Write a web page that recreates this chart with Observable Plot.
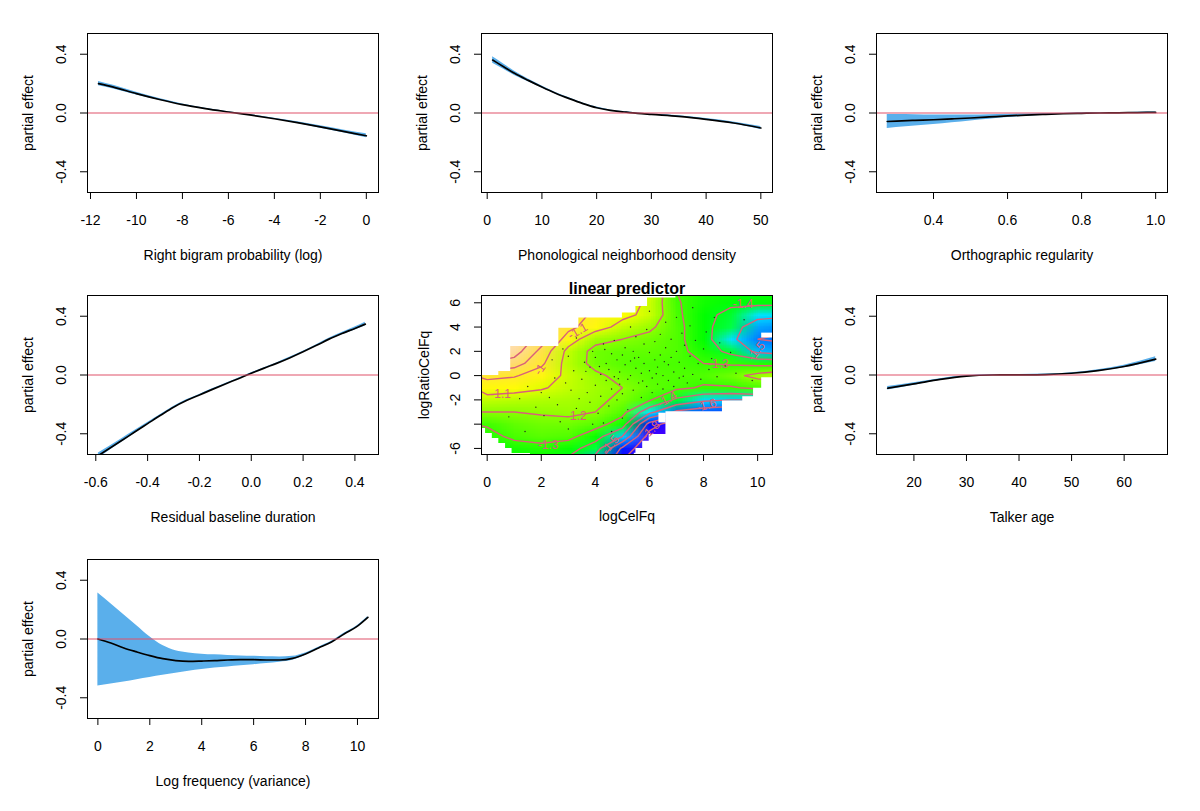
<!DOCTYPE html>
<html><head><meta charset="utf-8">
<script src="https://cdn.jsdelivr.net/npm/d3@7"></script>
<script src="https://cdn.jsdelivr.net/npm/@observablehq/plot@0.6"></script>
<style>
body{margin:0;background:#fff;}
#wrap{position:relative;width:1200px;height:811px;overflow:hidden;background:#fff;font-family:"Liberation Sans",Arial,sans-serif;}
#wrap svg{position:absolute;}
</style></head><body><div id="wrap"></div>
<script>
// ---------- Panel 1: Right bigram probability (log)
const p1X   = [-11.65,-11,-10,-9,-8,-7,-6,-5,-4,-3,-2,-1,0];
const p1Fit = [0.2,0.176,0.132,0.092,0.057,0.03,0.007,-0.015,-0.039,-0.066,-0.095,-0.125,-0.155];
const p1Se  = [0.015,0.012,0.009,0.006,0.004,0.003,0.002,0.003,0.004,0.006,0.008,0.01,0.013];
// ---------- Panel 2: Phonological neighborhood density
const p2X   = [1,3,5,7.5,10,12.5,15,17.5,20,22.5,25,27.5,30,35,40,45,50];
const p2Fit = [0.36,0.315,0.27,0.222,0.177,0.135,0.098,0.064,0.036,0.018,0.007,-0.003,-0.01,-0.023,-0.043,-0.068,-0.102];
const p2Se  = [0.022,0.018,0.014,0.01,0.007,0.005,0.005,0.004,0.004,0.003,0.003,0.003,0.003,0.004,0.005,0.007,0.01];
// ---------- Panel 3: Orthographic regularity
const p3X   = [0.275,0.3,0.35,0.4,0.45,0.5,0.55,0.6,0.65,0.7,0.75,0.8,0.85,0.9,0.95,1.0];
const p3Fit = [-0.058,-0.055,-0.05,-0.046,-0.04,-0.034,-0.027,-0.02,-0.014,-0.009,-0.005,-0.002,0,0.001,0.003,0.004];
const p3Se  = [0.048,0.044,0.038,0.032,0.026,0.02,0.015,0.011,0.008,0.006,0.004,0.003,0.002,0.002,0.002,0.002];
// ---------- Panel 4: Residual baseline duration
const p4X   = [-0.59,-0.5,-0.45,-0.4,-0.35,-0.3,-0.25,-0.2,-0.15,-0.1,-0.05,0,0.05,0.1,0.15,0.2,0.25,0.3,0.35,0.4,0.44];
const p4Fit = [-0.548,-0.446,-0.388,-0.331,-0.274,-0.219,-0.174,-0.136,-0.098,-0.061,-0.025,0.012,0.047,0.081,0.118,0.158,0.2,0.244,0.282,0.317,0.346];
const p4Se  = [0.018,0.012,0.01,0.008,0.006,0.005,0.005,0.004,0.004,0.003,0.003,0.003,0.003,0.003,0.004,0.004,0.005,0.006,0.008,0.01,0.013];
// ---------- Panel 6: Talker age
const p6X   = [15,20,25,30,35,40,45,50,55,60,66];
const p6Fit = [-0.09,-0.061,-0.03,-0.008,0,0.001,0.003,0.012,0.03,0.058,0.108];
const p6Se  = [0.012,0.008,0.005,0.004,0.003,0.003,0.003,0.004,0.006,0.009,0.016];
// ---------- Panel 7: Log frequency (variance)
const p7X     = [0,0.5,1,1.5,2,2.5,3,3.5,4,4.5,5,5.5,6,6.5,7,7.5,8,8.5,9,9.5,10,10.4];
const p7Fit   = [0,-0.027,-0.061,-0.088,-0.113,-0.134,-0.147,-0.152,-0.15,-0.147,-0.143,-0.141,-0.141,-0.143,-0.143,-0.132,-0.102,-0.061,-0.02,0.036,0.088,0.147];
const p7Upper = [0.313,0.24,0.165,0.09,0.015,-0.045,-0.08,-0.095,-0.103,-0.108,-0.112,-0.115,-0.118,-0.121,-0.122,-0.118,-0.095,-0.056,-0.016,0.04,0.092,0.153];
const p7Lower = [-0.32,-0.306,-0.293,-0.277,-0.262,-0.247,-0.233,-0.22,-0.208,-0.198,-0.19,-0.182,-0.175,-0.167,-0.158,-0.145,-0.11,-0.066,-0.024,0.032,0.084,0.141];

// ---------- Panel 5: linear predictor surface (grid x = 0..11, rows y = 7..-7)
const zCols = 12, zRows = 15;
const zGrid = [
 -0.80,-0.82,-0.86,-0.94,-1.00,-1.04,-1.10,-1.30,-1.34,-1.36,-1.36,-1.36,
 -0.80,-0.80,-0.85,-0.95,-1.00,-1.05,-1.12,-1.29,-1.35,-1.38,-1.38,-1.38,
 -0.75,-0.78,-0.85,-0.95,-1.02,-1.08,-1.12,-1.28,-1.37,-1.43,-1.47,-1.48,
 -0.72,-0.75,-0.85,-0.97,-1.06,-1.13,-1.18,-1.27,-1.37,-1.46,-1.55,-1.58,
 -0.68,-0.70,-0.85,-1.05,-1.17,-1.20,-1.23,-1.27,-1.37,-1.47,-1.60,-1.62,
 -0.70,-0.75,-0.93,-1.13,-1.23,-1.25,-1.25,-1.27,-1.34,-1.43,-1.52,-1.55,
 -0.80,-0.85,-0.98,-1.14,-1.23,-1.26,-1.27,-1.28,-1.30,-1.31,-1.33,-1.34,
 -0.97,-0.99,-1.05,-1.12,-1.18,-1.23,-1.26,-1.27,-1.27,-1.23,-1.17,-1.12,
 -1.06,-1.07,-1.09,-1.13,-1.17,-1.20,-1.25,-1.28,-1.31,-1.31,-1.28,-1.25,
 -1.13,-1.14,-1.15,-1.16,-1.18,-1.22,-1.29,-1.42,-1.48,-1.50,-1.50,-1.50,
 -1.20,-1.20,-1.19,-1.18,-1.20,-1.27,-1.47,-1.62,-1.66,-1.68,-1.68,-1.68,
 -1.29,-1.25,-1.23,-1.23,-1.26,-1.35,-1.74,-1.88,-1.90,-1.90,-1.90,-1.90,
 -1.33,-1.28,-1.26,-1.27,-1.36,-1.50,-1.85,-1.90,-1.90,-1.90,-1.90,-1.90,
 -1.38,-1.34,-1.33,-1.36,-1.45,-1.72,-1.90,-1.90,-1.90,-1.90,-1.90,-1.90,
 -1.42,-1.38,-1.38,-1.42,-1.55,-1.80,-1.90,-1.90,-1.90,-1.90,-1.90,-1.90
];
const contourLevels = [-1.8,-1.7,-1.6,-1.5,-1.4,-1.3,-1.2,-1.1,-1.0,-0.9,-0.8,-0.7];
// extent of observed data (outside is blank)
const maskTopX = [-0.4,0.43,0.87,2.65,3.39,5.0,5.5,5.93,6.98,10.7];
const maskTopY = [0.0,0.33,2.4,3.91,4.74,5.15,5.7,6.39,6.7,6.7];
const maskBotX = [-0.4,-0.06,0.19,0.43,0.68,0.92,1.6,5.44,5.5,5.75,5.99,6.61,8.7,9.45,9.85,10.15,10.7];
const maskBotY = [-4.35,-4.77,-5.18,-5.59,-6.0,-6.42,-6.8,-6.4,-6.0,-5.4,-4.85,-2.98,-2.1,-1.75,-1.05,-0.17,-0.17];
const holeX1 = [6.35,10.15], holeX2 = [6.62,10.6], holeY1 = [-3.9,3.1], holeY2 = [-3.1,3.5];
const labelText = ["-1.1","-1","-1.1","-1.2","-1.3","-1.3","-1.4","-1.5","-1.4","-1.6","-1.5","-1.8"];
const labelX    = [0.5,1.95,3.35,3.3,2.25,8.55,9.45,9.95,6.65,8.1,4.55,6.05];
const labelY    = [-1.55,0.5,3.65,-3.35,-5.75,0.95,5.9,2.0,-1.95,-2.45,-5.7,-4.5];
const labelRot  = [0,-55,-30,0,0,0,0,-50,-30,-15,-50,-45];
const dotX = [2.3,2.6,2.9,3.1,3.2,3.3,3.4,3.5,3.6,3.7,3.8,3.8,3.9,4.0,4.0,4.1,4.2,4.2,4.3,4.4,4.4,4.5,4.5,4.6,4.6,4.7,4.7,4.8,4.8,4.9,4.9,5.0,5.0,5.1,5.1,5.2,5.2,5.3,5.3,5.4,5.4,5.5,5.5,5.6,5.6,5.7,5.7,5.8,5.8,5.9,5.9,6.0,6.0,6.1,6.1,6.2,6.2,6.3,6.3,6.4,6.4,6.5,6.5,6.6,6.6,6.7,6.7,6.8,6.8,6.9,6.9,7.0,7.0,7.1,7.1,7.2,7.3,7.3,7.4,7.5,7.5,7.6,7.7,7.8,7.9,8.0,8.1,8.2,8.3,8.5,8.6,8.8,9.0,9.2,9.5,9.8,1.5,1.8,2.0,2.1,2.5,2.7,3.0,3.5,3.9,4.3,4.6,5.0,1.2,2.4,2.8,3.3,3.0,5.3,6.0,7.6,8.4,0.8,1.4,4.15,5.45,6.25,4.85,3.65,5.75,6.55,7.25,4.35];
const dotY = [-1.8,-2.4,-0.6,-1.2,0.4,-2.7,-1.9,-0.3,1.1,-1.4,0.7,-2.2,2.0,-0.8,1.5,-3.1,0.1,-1.7,2.6,-0.4,1.0,-2.5,0.5,1.8,-1.1,-0.1,2.9,1.3,-2.0,0.3,-0.7,1.7,-1.5,0.9,2.3,-0.3,-2.8,1.2,0.0,2.0,-1.2,0.6,3.2,-0.6,1.5,-1.8,0.2,2.6,1.0,-0.9,3.8,0.4,1.9,-0.2,-1.4,1.3,2.8,0.7,-0.7,3.4,1.7,0.0,-1.1,2.3,4.4,0.9,-0.4,1.5,3.0,-0.9,0.3,2.0,4.8,1.1,-0.2,3.5,0.6,2.5,-0.6,1.6,4.1,0.1,2.9,1.0,-0.3,2.2,3.6,0.5,1.4,-0.1,2.7,0.8,1.9,0.2,4.6,-0.4,-0.9,-2.6,-1.4,-3.3,-0.2,-3.8,-4.4,-3.6,-4.0,-3.9,-4.6,-3.5,-1.9,1.3,2.2,3.1,1.6,4.0,5.3,5.6,4.8,-3.4,-4.6,0.75,1.45,0.15,-0.25,0.35,-0.45,1.15,-0.05,2.15];

// ---------- layout & style
const FONT = '"Liberation Sans", Arial, sans-serif';
const FS = 14;
const BAND = "#5AAFEB", RED = "#DF536B", CONT = "#D9607A";
const W = 400, H = 263;
const colLeft = [0, 394, 789], rowTop = [0, 262, 526];
const M = {marginLeft: 87, marginRight: 22, marginTop: 33, marginBottom: 71};
const STYLE = {fontFamily: FONT, fontSize: FS + "px", background: "transparent", overflow: "visible", color: "black"};
const wrap = document.getElementById("wrap");
function place(svg, c, r) { svg.style.left = colLeft[c] + "px"; svg.style.top = rowTop[r] + "px"; wrap.append(svg); }
const fmt1 = d => d.toFixed(1);
const fmtInt = d => String(d);

function smoothPanel({x, fit, lower, upper, xDomain, xTicks, xFormat, xLabel}) {
  const rows = x.map((v, i) => ({x: v, fit: fit[i], lo: lower[i], hi: upper[i]}));
  return Plot.plot({
    width: W, height: H, ...M, style: STYLE,
    x: {domain: xDomain}, y: {domain: [-0.541, 0.541]},
    marks: [
      Plot.areaY(rows, {x: "x", y1: "lo", y2: "hi", fill: BAND, curve: "monotone-x", clip: true}),
      Plot.line(rows, {x: "x", y: "fit", stroke: "black", strokeWidth: 1.7, curve: "monotone-x", clip: true}),
      Plot.ruleY([0], {stroke: RED, strokeWidth: 1.2}),
      Plot.frame({stroke: "black", strokeWidth: 1}),
      Plot.axisX({ticks: xTicks, tickFormat: xFormat, tickSize: 7, tickPadding: 16, label: null, fontSize: FS}),
      Plot.axisY({ticks: [-0.4, 0, 0.4], tickFormat: fmt1, tickRotate: -90, tickSize: 7, tickPadding: 15, label: null, fontSize: FS}),
      Plot.text([xLabel], {text: d => d, frameAnchor: "bottom", dy: 63, textAnchor: "middle", lineAnchor: "middle", fontSize: FS}),
      Plot.text(["partial effect"], {text: d => d, frameAnchor: "left", dx: -59, rotate: -90, textAnchor: "middle", lineAnchor: "middle", fontSize: FS})
    ]
  });
}
const band = (fit, se, s) => fit.map((f, i) => f + s * se[i]);

place(smoothPanel({x: p1X, fit: p1Fit, lower: band(p1Fit, p1Se, -1), upper: band(p1Fit, p1Se, 1),
  xDomain: [-12.13, 0.53], xTicks: [-12,-10,-8,-6,-4,-2,0], xFormat: fmtInt, xLabel: "Right bigram probability (log)"}), 0, 0);
place(smoothPanel({x: p2X, fit: p2Fit, lower: band(p2Fit, p2Se, -1), upper: band(p2Fit, p2Se, 1),
  xDomain: [-1.04, 52.13], xTicks: [0,10,20,30,40,50], xFormat: fmtInt, xLabel: "Phonological neighborhood density"}), 1, 0);
place(smoothPanel({x: p3X, fit: p3Fit, lower: band(p3Fit, p3Se, -1), upper: band(p3Fit, p3Se, 1),
  xDomain: [0.246, 1.032], xTicks: [0.4,0.6,0.8,1.0], xFormat: fmt1, xLabel: "Orthographic regularity"}), 2, 0);
place(smoothPanel({x: p4X, fit: p4Fit, lower: band(p4Fit, p4Se, -1), upper: band(p4Fit, p4Se, 1),
  xDomain: [-0.632, 0.491], xTicks: [-0.6,-0.4,-0.2,0,0.2,0.4], xFormat: fmt1, xLabel: "Residual baseline duration"}), 0, 1);
place(smoothPanel({x: p6X, fit: p6Fit, lower: band(p6Fit, p6Se, -1), upper: band(p6Fit, p6Se, 1),
  xDomain: [12.88, 68.25], xTicks: [20,30,40,50,60], xFormat: fmtInt, xLabel: "Talker age"}), 2, 1);
place(smoothPanel({x: p7X, fit: p7Fit, lower: p7Lower, upper: p7Upper,
  xDomain: [-0.4, 10.81], xTicks: [0,2,4,6,8,10], xFormat: fmtInt, xLabel: "Log frequency (variance)"}), 0, 2);

// ---------- topo.colors-like interpolator
function hsv(h, s, v) {
  const c = v * s, hp = h / 60, x = c * (1 - Math.abs(hp % 2 - 1)), m = v - c;
  let r = 0, g = 0, b = 0;
  if (hp < 1) { r = c; g = x; } else if (hp < 2) { r = x; g = c; } else if (hp < 3) { g = c; b = x; }
  else if (hp < 4) { g = x; b = c; } else if (hp < 5) { r = x; b = c; } else { r = c; b = x; }
  return d3.rgb((r + m) * 255, (g + m) * 255, (b + m) * 255).formatHex();
}
function topo(t) {
  if (t < 1/3) return hsv(258 - 72 * (t * 3), 1, 1);
  if (t < 2/3) return hsv(138 - 72 * ((t - 1/3) * 3), 1, 1);
  const u = (t - 2/3) * 3;
  return hsv(60 - 24 * u, 1 - 0.7 * u, 1);
}

const topMask = maskTopX.map((x, i) => ({x, y: maskTopY[i]}));
const botMask = maskBotX.map((x, i) => ({x, y: maskBotY[i]}));
const holes = holeX1.map((x1, i) => ({x1, x2: holeX2[i], y1: holeY1[i], y2: holeY2[i]}));
const labels = labelText.map((t, i) => ({t, x: labelX[i], y: labelY[i], r: labelRot[i]}));
const dots = dotX.map((x, i) => ({x, y: dotY[i]}));
const grid = {width: zCols, height: zRows, x1: -0.5, x2: 11.5, y1: 7.5, y2: -7.5};

const p5 = Plot.plot({
  width: W, height: H, ...M, style: STYLE,
  x: {domain: [-0.21, 10.55]}, y: {domain: [-6.5, 6.6]},
  color: {type: "linear", domain: [-1.85, -0.7], interpolate: topo, clamp: true},
  marks: [
    Plot.raster(zGrid, {...grid, fill: d => d, clip: true}),
    Plot.contour(zGrid, {...grid, value: d => d, thresholds: contourLevels, stroke: CONT, strokeWidth: 1.4, fill: "none", clip: true}),
    Plot.dot(dots, {x: "x", y: "y", r: 0.7, fill: "#222", stroke: null, clip: true}),
    Plot.areaY(topMask, {x: "x", y1: "y", y2: 6.9, curve: "step-after", fill: "white", clip: true}),
    Plot.areaY(botMask, {x: "x", y1: -6.9, y2: "y", curve: "step-after", fill: "white", clip: true}),
    Plot.rect(holes, {x1: "x1", x2: "x2", y1: "y1", y2: "y2", fill: "white", clip: true}),
    Plot.text(labels, {x: "x", y: "y", text: "t", rotate: "r", fill: CONT, fontSize: 12}),
    Plot.frame({stroke: "black", strokeWidth: 1}),
    Plot.axisX({ticks: [0,2,4,6,8,10], tickFormat: fmtInt, tickSize: 7, tickPadding: 16, label: null, fontSize: FS}),
    Plot.axisY({ticks: [-6,-4,-2,0,2,4,6], tickFormat: d => d === -4 ? "" : String(d), tickRotate: -90, tickSize: 7, tickPadding: 15, label: null, fontSize: FS}),
    Plot.text(["linear predictor"], {text: d => d, frameAnchor: "top", dy: -7, textAnchor: "middle", lineAnchor: "middle", fontWeight: "bold", fontSize: 16}),
    Plot.text(["logCelFq"], {text: d => d, frameAnchor: "bottom", dy: 62, textAnchor: "middle", lineAnchor: "middle", fontSize: FS}),
    Plot.text(["logRatioCelFq"], {text: d => d, frameAnchor: "left", dx: -57, rotate: -90, textAnchor: "middle", lineAnchor: "middle", fontSize: FS})
  ]
});
place(p5, 1, 1);
</script></body></html>
